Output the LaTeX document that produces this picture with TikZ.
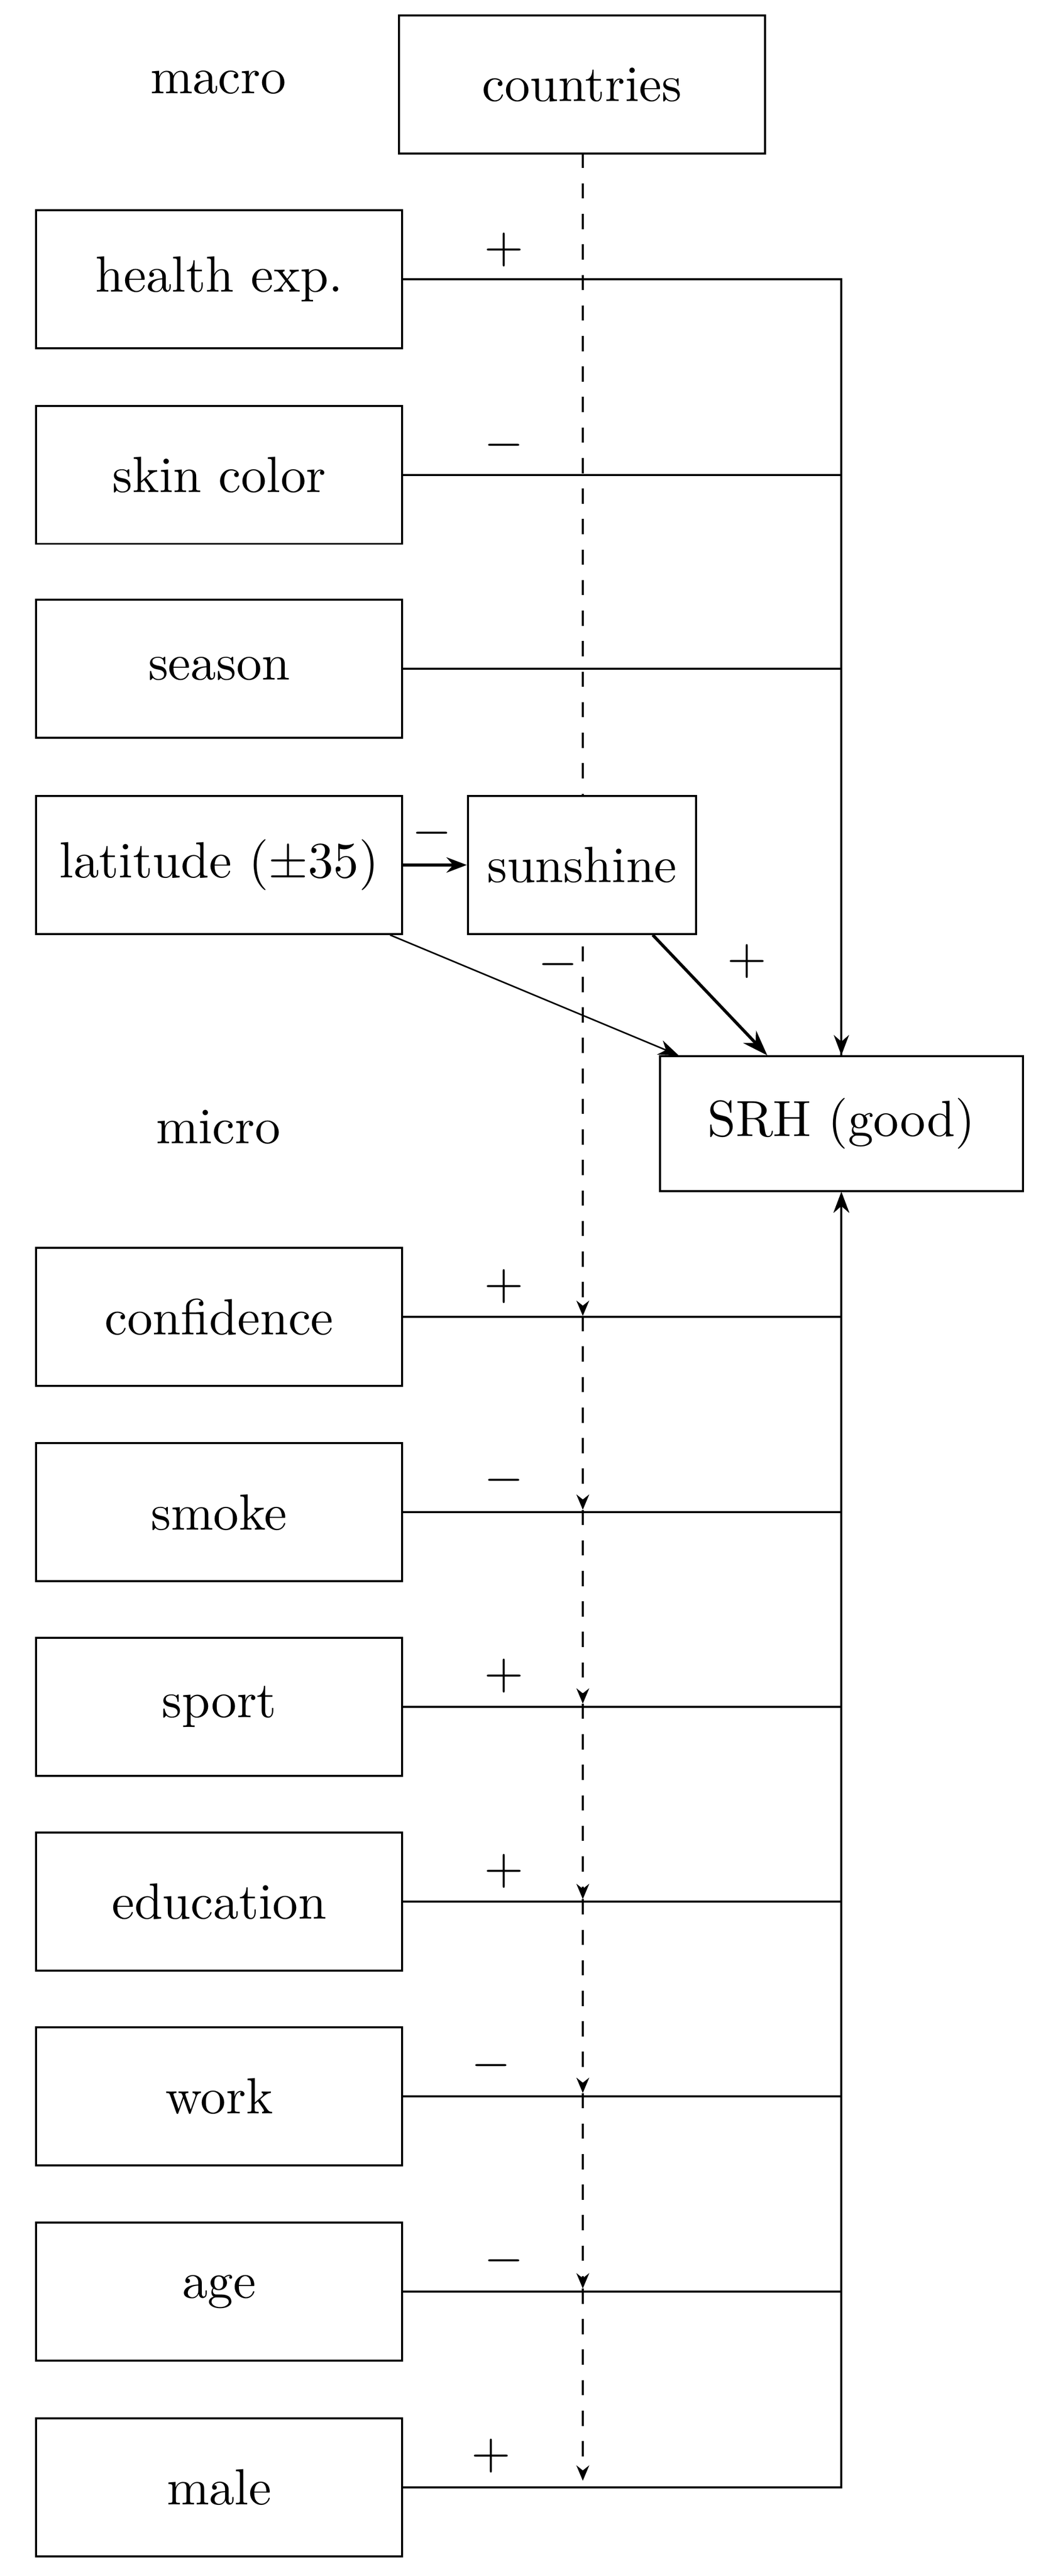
\documentclass[tikz,border=0pt]{standalone}
\usetikzlibrary{arrows.meta}
\begin{document}
\begin{tikzpicture}[x=0.01135cm,y=-0.01135cm,
 box/.style={draw,fill=white,minimum width=223*0.01135cm,minimum height=84*0.01135cm,inner sep=0pt},
 ar/.style={-{Stealth[length=4pt,width=3pt]}},
 da/.style={dashed,-{Stealth[length=3pt,width=2.5pt]}},
 lab/.style={inner sep=0pt}]
\useasboundingbox (0,0) rectangle (634,1568);
\coordinate (d0) at (355,93);
\foreach \y/\n in {801/a,919/b,1037/c,1156/d,1274/e,1393/f,1510/g}{\coordinate (m\n) at (355,\y);}
\draw[da] (d0) -- (ma);
\draw[da] (ma) -- (mb);
\draw[da] (mb) -- (mc);
\draw[da] (mc) -- (md);
\draw[da] (md) -- (me);
\draw[da] (me) -- (mf);
\draw[da] (mf) -- (mg);
\node[box] (countries) at (354.5,51.5) {countries};
\node[lab] (macro) at (133,50) {macro};
\node[lab] (micro) at (133,686) {micro};
\node[box] (health) at (133.5,170) {health exp.};
\node[box] (skin) at (133.5,289) {skin color};
\node[box] (season) at (133.5,407) {season};
\node[box] (lat) at (133.5,526.5) {latitude ($\pm$35)};
\node[box,minimum width=139*0.01135cm] (sun) at (354.5,526.5) {sunshine};
\node[box,minimum width=221*0.01135cm,minimum height=82*0.01135cm] (srh) at (512.5,684) {SRH (good)};
\node[box] (conf) at (133.5,801.5) {confidence};
\node[box] (smoke) at (133.5,920.5) {smoke};
\node[box] (sport) at (133.5,1039) {sport};
\node[box] (edu) at (133.5,1157.5) {education};
\node[box] (work) at (133.5,1276) {work};
\node[box] (age) at (133.5,1395) {age};
\node[box] (male) at (133.5,1514) {male};
\draw[ar] (health.east) -| (srh.north);
\draw (skin.east) -| (srh.north);
\draw (season.east) -| (srh.north);
\foreach \n in {conf,smoke,sport,edu,work,age,male}{\draw[ar] (\n.east) -| (srh.south);}
\draw[ar,semithick] (lat.east) -- (sun.west);
\draw[-{Stealth[length=4pt,width=3pt]},line width=0.3pt] (lat.south east)++(-8,0) -- ([xshift=12*0.01135cm]srh.north west);
\draw[-{Stealth[length=5pt,width=3.5pt]},semithick] ([xshift=-27*0.01135cm]sun.south east) -- ([xshift=66*0.01135cm]srh.north west);
\node[lab] (s1) at (307,152) {$+$};
\node[lab] (s2) at (307,271) {$-$};
\node[lab] (s3) at (263,507) {$-$};
\node[lab] (s4) at (340,587) {$-$};
\node[lab] (s5) at (455,585) {$+$};
\node[lab] (s6) at (307,783) {$+$};
\node[lab] (s7) at (307,901) {$-$};
\node[lab] (s8) at (307,1020) {$+$};
\node[lab] (s9) at (307,1139) {$+$};
\node[lab] (s10) at (299,1257) {$-$};
\node[lab] (s11) at (307,1376) {$-$};
\node[lab] (s12) at (299,1495) {$+$};
\end{tikzpicture}
\end{document}
